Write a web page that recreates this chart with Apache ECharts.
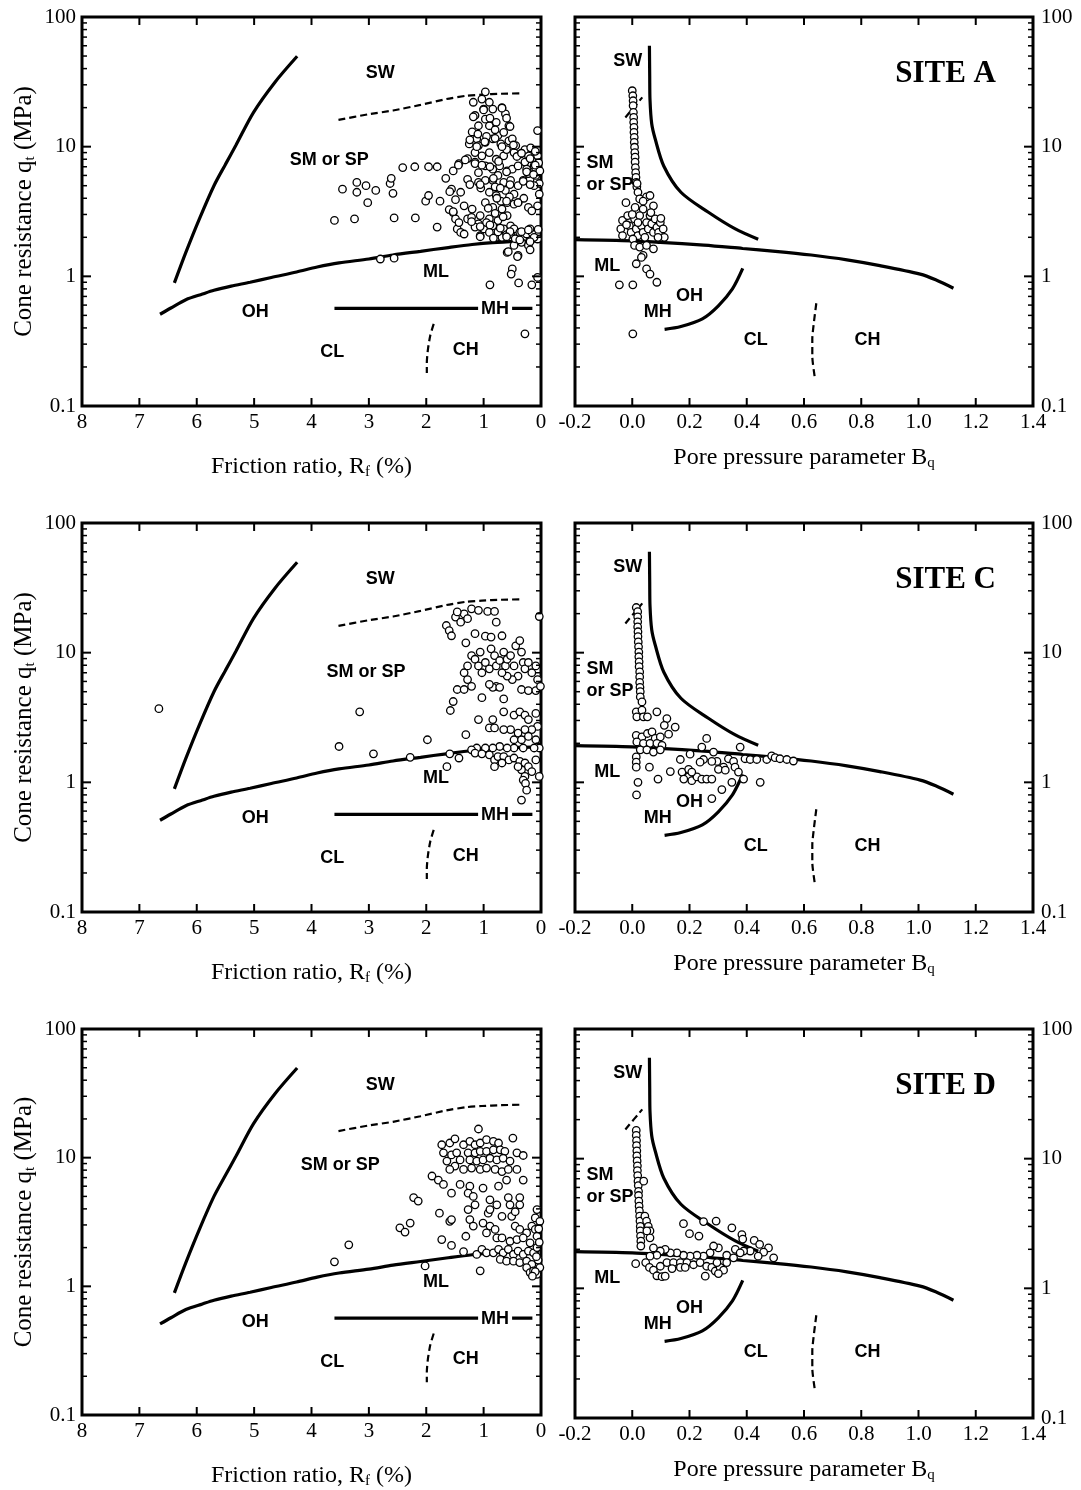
<!DOCTYPE html>
<html>
<head>
<meta charset="utf-8">
<script src="https://cdn.jsdelivr.net/npm/echarts@6/dist/echarts.min.js"></script>
<style>
  html, body { margin: 0; padding: 0; background: #fff; }
  #chart { width: 1081px; height: 1490px; }
</style>
</head>
<body>
<div id="chart"></div>
<script>
  // ---- axis ticks ----
  const rfTicks = [0, 1, 2, 3, 4, 5, 6, 7, 8];
  const bqTicks = [-0.2, 0, 0.2, 0.4, 0.6, 0.8, 1.0, 1.2, 1.4];
  const qTicks = [0.1, 0.2, 0.3, 0.4, 0.5, 0.6, 0.7, 0.8, 0.9,
    1, 2, 3, 4, 5, 6, 7, 8, 9, 10, 20, 30, 40, 50, 60, 70, 80, 90, 100];
  const siteNames = ['SITE A', 'SITE C', 'SITE D'];

  // ---- classification boundaries, Rf chart (Rf %, qt MPa) ----
  const rfSW = [[6.39, 0.89], [6.19, 1.53], [5.95, 2.8], [5.7, 5.0], [5.5, 7.3], [5.32, 10.2], [5.01, 18.4], [4.64, 31.3], [4.25, 49.8]];
  const rfMain = [[6.64, 0.51], [6.45, 0.57], [6.19, 0.66], [5.9, 0.73], [5.7, 0.78], [5.4, 0.84], [5.07, 0.9], [4.7, 0.98], [4.26, 1.08],
    [3.9, 1.18], [3.52, 1.27], [3.0, 1.36], [2.58, 1.46], [2.1, 1.56], [1.65, 1.66], [1.2, 1.76], [0.84, 1.82], [0.4, 1.86], [0.03, 1.88]];
  const rfDash = [[3.53, 16.1], [3.0, 17.8], [2.58, 19], [2.1, 21], [1.65, 23.3], [1.3, 24.7], [1.03, 25.2], [0.7, 25.6], [0.31, 25.8]];
  const rfMH = [[3.6, 0.566], [0.15, 0.566]];
  const rfCLCH = [[1.87, 0.43], [1.93, 0.35], [1.97, 0.275], [1.99, 0.217], [1.99, 0.18]];

  // ---- classification boundaries, Bq chart ----
  const bqSW = [[0.06, 60], [0.061, 35], [0.062, 23], [0.068, 15], [0.08, 11.5], [0.11, 7.1], [0.17, 4.45], [0.266, 3.12], [0.36, 2.32], [0.44, 1.93]];
  const bqMain = [[-0.2, 1.92], [0.0, 1.88], [0.098, 1.83], [0.25, 1.74], [0.386, 1.64], [0.5, 1.56], [0.625, 1.46], [0.75, 1.34],
    [0.865, 1.21], [1.006, 1.04], [1.06, 0.94], [1.122, 0.81]];
  const bqOH = [[0.113, 0.39], [0.17, 0.41], [0.245, 0.47], [0.30, 0.59], [0.35, 0.8], [0.386, 1.15]];
  const bqCLCH = [[0.643, 0.62], [0.635, 0.45], [0.629, 0.33], [0.629, 0.24], [0.637, 0.17]];
  const bqDash = [[-0.024, 16.8], [0.035, 24]];

  // ---- zone labels ----
  const rfLabels = [[2.8, 37, 'SW'], [1.83, 1.08, 'ML'], [4.98, 0.53, 'OH'], [3.64, 0.26, 'CL'], [1.31, 0.27, 'CH']];
  const rfMHLabel = [[0.8, 0.555, 'MH']];
  const rfSMLabel = [[3.69, 7.9, 'SM or SP'], [3.05, 7.1, 'SM or SP'], [3.5, 8.7, 'SM or SP']];
  const bqLabels = [[-0.016, 46, 'SW'], [-0.087, 1.21, 'ML'], [0.2, 0.71, 'OH'], [0.089, 0.53, 'MH'], [0.431, 0.32, 'CL'], [0.822, 0.32, 'CH']];
  const bqSMLabel = [[-0.16, 6.2, 'SM\nor SP']];

  // ---- CPT data, Site A ----
  const siteA_rf = [[3.60, 2.7], [3.46, 4.7], [3.25, 2.77], [3.21, 5.3], [3.21, 4.45], [3.05, 5.0], [3.02, 3.7], [2.88, 4.6], [2.80, 1.36],
    [2.63, 5.2], [2.61, 5.7], [2.58, 4.37], [2.56, 2.82], [2.56, 1.38], [2.41, 6.9], [2.20, 7.0], [2.19, 2.82], [2.01, 3.8], [1.96, 4.2],
    [1.96, 7.0], [1.81, 7.0], [1.81, 2.4], [1.76, 3.8], [1.66, 5.7], [1.60, 3.27], [1.53, 6.5], [1.56, 4.7], [1.49, 3.9], [1.43, 7.4],
    [1.40, 4.45], [1.34, 3.5], [1.53, 3.1], [1.49, 2.77], [1.46, 2.32], [1.40, 2.18], [1.34, 2.12], [1.43, 2.6], [1.28, 2.77], [1.21, 2.85],
    [1.28, 5.6], [1.28, 8.1], [0.97, 26.5], [1.18, 22], [1.03, 23.3], [0.90, 22], [0.84, 19.5], [0.68, 20], [0.62, 17.9], [0.56, 14.5],
    [1.15, 17.4], [1.09, 14.5], [0.97, 16.3], [1.00, 19.5], [0.90, 14.5], [0.78, 15.4], [0.75, 12.2], [0.65, 12.9], [0.56, 11.1], [0.50, 11.5],
    [1.12, 11.5], [1.25, 10.5], [1.09, 10.2], [0.97, 10.8], [0.84, 11.5], [1.15, 9.0], [1.03, 8.5], [0.90, 9.0], [0.78, 8.0], [0.65, 8.5],
    [0.47, 9.0], [0.44, 10.2], [1.15, 7.6], [1.09, 6.3], [0.97, 7.1], [0.84, 6.7], [0.72, 7.1], [0.59, 6.5], [0.50, 6.7], [0.40, 7.1],
    [0.28, 7.6], [0.22, 8.5], [0.16, 8.0], [0.25, 6.7], [0.12, 7.1], [0.06, 8.5], [0.06, 13.3], [1.09, 5.3], [0.97, 5.5], [0.84, 5.5],
    [0.75, 6.0], [0.65, 5.3], [0.53, 5.5], [0.40, 5.0], [0.31, 5.5], [0.19, 5.6], [0.09, 6.0], [0.03, 5.2], [0.12, 5.0], [0.22, 6.2],
    [0.09, 6.7], [0.90, 4.45], [0.78, 4.2], [0.62, 4.6], [0.47, 4.3], [0.59, 3.7], [0.97, 3.7], [0.84, 3.4], [0.68, 3.3], [0.47, 3.6],
    [0.40, 3.7], [0.22, 3.4], [0.16, 3.2], [1.06, 2.94], [0.90, 2.77], [0.75, 2.69], [0.59, 2.94], [1.09, 2.54], [1.00, 2.32], [0.84, 2.45],
    [0.65, 2.32], [0.53, 2.45], [1.06, 2.06], [0.90, 2.18], [0.78, 2.0], [0.68, 2.0], [0.53, 2.12], [0.47, 2.32], [0.37, 2.18], [0.31, 2.0],
    [0.25, 2.12], [0.16, 2.18], [0.19, 2.32], [0.34, 1.83], [0.47, 1.73], [0.22, 1.73], [0.06, 1.94], [0.59, 1.53], [0.40, 1.45], [0.50, 1.14],
    [0.52, 1.04], [0.89, 0.86], [0.39, 0.89], [0.16, 0.86], [0.28, 0.36], [0.06, 0.98], [0.03, 4.3], [0.06, 3.5],
    [1.20, 13], [1.10, 12.5], [0.95, 12], [0.80, 13.5], [0.70, 10.5], [0.60, 9.5], [0.35, 8.8], [0.28, 9.5], [0.18, 9.8], [0.10, 9.2],
    [0.04, 7.5], [0.02, 6.5], [1.05, 4.8], [0.80, 4.9], [0.70, 3.8], [0.55, 4.1], [0.30, 4.0], [1.20, 3.3], [1.15, 2.4], [0.95, 2.6],
    [0.75, 2.2], [0.60, 2.1], [0.45, 1.95], [0.12, 2.0], [0.05, 2.3],
    [1.18, 17], [1.0, 19.2], [0.89, 16.6], [0.68, 19.8], [0.6, 16.6], [0.54, 14.3], [1.24, 11.3], [1.12, 10], [0.98, 10.9], [0.8, 11.6],
    [0.68, 10], [0.48, 10.3], [1.15, 7.4], [1.03, 7.2], [0.89, 7.0], [0.74, 7.7], [0.6, 6.4], [0.42, 8.4], [0.34, 8.9], [0.19, 8.1],
    [0.1, 7.2], [0.25, 6.4], [0.13, 6.1], [0.31, 5.4], [0.19, 5.1], [1.24, 5.1], [1.06, 5.1], [0.83, 5.7], [0.71, 4.8], [0.54, 5.1],
    [0.77, 4.0], [0.6, 3.8], [0.4, 3.7], [0.92, 3.35], [0.8, 3.06], [0.66, 2.88], [1.21, 2.64], [1.06, 2.42], [0.89, 2.49], [0.71, 2.35],
    [0.54, 2.21], [0.34, 2.21], [0.22, 2.28], [1.06, 2.02], [0.83, 1.97], [0.6, 2.02], [0.37, 1.91], [0.19, 1.85], [0.57, 1.55], [0.41, 1.42],
    [0.19, 1.6], [1.53, 3.15], [1.59, 4.5], [1.44, 7.2], [1.32, 7.9]];
  const siteA_bq = [[0.0, 27], [0.002, 24.7], [0.003, 22.6], [0.003, 20.7], [0.004, 18.4], [0.005, 16.8], [0.005, 15.4], [0.006, 14.1],
    [0.006, 12.9], [0.007, 11.8], [0.007, 10.8], [0.008, 9.9], [0.009, 9.0], [0.01, 8.3], [0.01, 7.6], [0.011, 6.9], [0.012, 6.3],
    [0.013, 5.8], [0.014, 5.3], [0.016, 4.9], [0.017, 5.2], [0.02, 4.45], [0.026, 3.95], [0.05, 4.1], [0.062, 4.2], [-0.022, 3.7],
    [0.074, 3.5], [0.038, 3.3], [0.038, 3.8], [-0.034, 2.7], [-0.04, 2.32], [-0.034, 2.06], [-0.016, 2.94], [-0.01, 2.45], [-0.004, 2.18],
    [0.008, 2.77], [0.014, 2.32], [0.02, 2.06], [0.026, 2.94], [0.032, 2.45], [0.038, 2.18], [0.05, 2.6], [0.056, 2.32], [0.062, 2.94],
    [0.068, 2.54], [0.074, 2.18], [0.08, 2.77], [0.086, 2.39], [0.092, 2.18], [0.098, 2.6], [0.108, 2.32], [0.112, 2.0], [0.044, 2.0],
    [0.002, 1.94], [0.008, 1.73], [0.026, 1.68], [0.05, 1.73], [0.074, 1.63], [0.038, 1.45], [0.032, 1.4], [0.014, 1.25], [0.05, 1.14],
    [0.062, 1.04], [0.086, 0.9], [-0.045, 0.86], [0.002, 0.86], [0.002, 0.36], [-0.02, 2.5], [0.0, 3.0], [0.01, 3.4], [0.02, 2.6],
    [0.065, 3.1], [0.09, 2.0], [0.1, 2.8]];

  // ---- CPT data, Site C ----
  const siteC_rf = [[6.66, 3.7], [3.52, 1.89], [3.16, 3.5], [2.92, 1.66], [2.28, 1.56], [1.98, 2.13], [1.64, 1.32], [1.59, 1.66], [1.43, 1.54],
    [1.58, 3.58], [1.53, 4.2], [1.46, 5.2], [1.31, 2.33], [1.34, 5.2], [1.65, 16.2], [1.60, 14.8], [1.56, 13.5], [1.49, 18.8], [1.40, 17.2],
    [1.34, 19.9], [1.46, 20.6], [1.28, 18.3], [1.21, 21.8], [1.31, 11.9], [1.15, 14], [1.09, 21.2], [0.93, 20.8], [0.81, 20.8], [0.78, 17.2],
    [0.68, 13.5], [0.97, 13.4], [0.87, 13.2], [0.03, 19], [1.21, 9.5], [1.28, 7.9], [1.34, 7.0], [1.28, 6.2], [1.21, 5.5], [1.15, 8.9],
    [1.09, 7.9], [1.03, 7.0], [1.06, 10.1], [0.97, 8.4], [0.90, 7.5], [0.87, 10.7], [0.81, 9.5], [0.78, 7.9], [0.72, 8.7], [0.65, 10.1],
    [0.62, 7.9], [0.59, 8.9], [0.53, 9.5], [0.47, 7.9], [0.44, 11.3], [0.37, 12.4], [0.34, 10.1], [0.31, 8.4], [0.28, 7.5], [0.22, 8.4],
    [0.16, 7.0], [0.09, 7.9], [0.06, 6.2], [0.40, 6.6], [0.50, 6.2], [0.59, 6.6], [0.68, 7.0], [0.78, 5.5], [0.84, 5.4], [0.72, 5.4],
    [0.34, 5.2], [0.22, 5.1], [0.09, 5.1], [0.01, 5.5], [0.65, 4.4], [0.65, 3.5], [1.09, 3.05], [0.84, 3.05], [0.90, 2.63], [0.81, 2.63],
    [1.03, 4.5], [0.90, 5.7], [0.47, 3.3], [0.37, 3.5], [0.28, 3.3], [0.22, 3.05], [0.09, 3.4], [0.06, 2.7], [0.16, 2.55], [0.28, 2.55],
    [0.40, 2.4], [0.53, 2.55], [0.65, 2.55], [0.47, 2.13], [0.34, 2.13], [0.22, 2.26], [0.09, 2.13], [0.03, 1.84], [0.12, 1.84], [0.31, 1.84],
    [0.47, 1.84], [0.59, 1.84], [0.72, 1.89], [0.84, 1.84], [0.97, 1.84], [1.12, 1.84], [1.21, 1.78], [1.15, 1.68], [1.03, 1.66], [0.90, 1.63],
    [0.81, 1.49], [0.75, 1.58], [0.65, 1.58], [0.56, 1.49], [0.47, 1.54], [0.37, 1.45], [0.28, 1.41], [0.22, 1.32], [0.16, 1.21], [0.34, 1.25],
    [0.40, 1.32], [0.28, 1.11], [0.31, 1.04], [0.27, 0.98], [0.25, 0.87], [0.34, 0.73], [0.81, 1.32], [0.68, 1.41], [0.03, 1.11], [0.09, 1.49]];
  const siteC_bq = [[0.014, 22.3], [0.019, 20.7], [0.019, 18.9], [0.019, 17.3], [0.019, 15.8], [0.02, 14.5], [0.02, 13.3], [0.021, 12.1],
    [0.022, 11.1], [0.023, 10.1], [0.023, 9.3], [0.024, 8.5], [0.024, 7.8], [0.026, 7.1], [0.026, 6.5], [0.026, 5.9], [0.027, 5.4],
    [0.028, 5.0], [0.028, 4.56], [0.034, 4.17], [0.014, 3.5], [0.034, 3.6], [0.016, 3.2], [0.039, 3.2], [0.053, 3.2], [0.086, 3.5],
    [0.121, 3.1], [0.112, 2.75], [0.15, 2.67], [0.127, 2.35], [0.014, 2.3], [0.034, 2.24], [0.053, 2.38], [0.069, 2.45], [0.08, 2.18],
    [0.098, 2.24], [0.016, 2.05], [0.039, 2.0], [0.062, 2.0], [0.086, 2.0], [0.104, 1.93], [0.028, 1.78], [0.051, 1.78], [0.074, 1.71],
    [0.098, 1.78], [0.014, 1.57], [0.014, 1.43], [0.014, 1.31], [0.06, 1.31], [0.02, 1.0], [0.015, 0.8], [0.09, 1.06], [0.133, 1.21],
    [0.168, 1.5], [0.202, 1.65], [0.243, 1.87], [0.26, 2.18], [0.377, 1.87], [0.284, 1.71], [0.296, 1.45], [0.249, 1.5], [0.237, 1.43],
    [0.278, 1.45], [0.319, 1.31], [0.336, 1.52], [0.354, 1.45], [0.359, 1.31], [0.394, 1.52], [0.412, 1.5], [0.435, 1.5], [0.47, 1.5],
    [0.487, 1.6], [0.499, 1.55], [0.516, 1.52], [0.54, 1.5], [0.563, 1.46], [0.174, 1.2], [0.197, 1.1], [0.208, 1.03], [0.226, 1.1],
    [0.243, 1.06], [0.26, 1.06], [0.278, 1.06], [0.18, 1.06], [0.197, 1.26], [0.208, 1.2], [0.371, 1.2], [0.348, 1.0], [0.313, 0.88],
    [0.278, 0.75], [0.389, 1.06], [0.447, 1.0], [0.301, 1.26], [0.325, 1.24]];

  // ---- CPT data, Site D ----
  const siteD_rf = [[1.09, 16.7], [0.49, 14.2], [1.73, 12.6], [1.59, 13], [1.50, 14], [1.70, 10.9], [1.64, 9.4], [1.56, 10.5], [1.47, 10.9],
    [1.41, 9.6], [1.50, 8.6], [1.59, 8.1], [1.35, 12.6], [1.24, 13.4], [1.15, 12.6], [1.06, 13], [0.95, 13.8], [0.83, 13.4], [0.74, 13],
    [1.27, 10.9], [1.15, 10.9], [1.06, 11.2], [0.95, 11.2], [0.83, 11.5], [0.71, 11.5], [0.63, 11.2], [1.24, 9.6], [1.12, 9.4], [1.01, 9.6],
    [0.89, 9.9], [0.77, 9.6], [0.66, 9.9], [0.54, 9.4], [0.42, 10.9], [0.31, 10.4], [1.35, 8.1], [1.21, 8.3], [1.06, 8.1], [0.95, 8.3],
    [0.80, 8.1], [0.68, 7.8], [0.57, 8.1], [0.42, 8.1], [0.31, 6.7], [1.90, 7.2], [1.79, 6.7], [1.70, 6.2], [1.41, 6.2], [1.24, 6.0],
    [1.01, 5.8], [0.74, 6.0], [0.60, 6.7], [2.22, 4.9], [2.14, 4.6], [1.56, 5.3], [1.27, 5.3], [1.18, 5.0], [0.89, 4.7], [0.77, 4.3],
    [0.57, 4.9], [0.37, 4.9], [0.54, 4.3], [0.37, 4.3], [1.77, 3.7], [1.27, 3.95], [1.15, 4.3], [0.92, 3.7], [0.89, 3.95], [0.68, 3.5],
    [0.51, 3.5], [0.45, 3.8], [0.07, 3.95], [0.10, 3.4], [1.59, 3.2], [1.56, 3.3], [2.46, 2.85], [2.37, 2.64], [2.28, 3.1], [1.24, 3.3],
    [1.18, 2.94], [1.01, 3.1], [0.89, 2.94], [0.80, 2.77], [0.95, 2.6], [0.45, 2.94], [0.37, 2.77], [0.25, 2.6], [0.16, 2.94], [0.10, 2.77],
    [1.73, 2.31], [1.31, 2.45], [1.56, 2.08], [0.77, 2.38], [0.68, 2.38], [0.54, 2.24], [0.42, 2.31], [0.31, 2.38], [0.19, 2.18], [0.07, 2.45],
    [1.35, 1.86], [1.12, 1.77], [1.03, 1.94], [0.95, 1.82], [0.83, 1.82], [0.74, 1.94], [0.66, 1.82], [0.57, 1.94], [0.48, 1.77], [0.40, 1.88],
    [0.31, 1.77], [0.22, 1.88], [0.13, 1.82], [0.07, 2.0], [0.71, 1.62], [0.60, 1.57], [0.48, 1.57], [0.37, 1.53], [0.25, 1.57], [0.16, 1.48],
    [0.25, 1.4], [0.19, 1.28], [0.13, 1.32], [0.07, 1.24], [1.06, 1.32], [2.02, 1.44], [3.35, 2.1], [3.6, 1.55], [0.03, 2.2], [0.05, 1.6],
    [0.02, 1.4], [0.08, 1.7], [0.04, 2.8], [0.02, 3.2], [0.1, 1.3], [0.15, 1.2]];
  const siteD_bq = [[0.014, 16.5], [0.014, 15.1], [0.015, 13.8], [0.015, 12.6], [0.016, 11.5], [0.016, 10.5], [0.017, 9.6], [0.018, 8.8],
    [0.018, 8.1], [0.019, 7.4], [0.02, 6.7], [0.021, 6.2], [0.022, 5.6], [0.022, 5.2], [0.023, 4.7], [0.024, 4.3], [0.025, 3.95],
    [0.026, 3.6], [0.027, 3.3], [0.028, 3.0], [0.028, 2.77], [0.029, 2.53], [0.03, 2.31], [0.03, 2.12], [0.04, 6.7], [0.044, 3.6],
    [0.05, 3.3], [0.056, 3.0], [0.062, 2.77], [0.179, 3.15], [0.2, 2.64], [0.233, 2.53], [0.249, 3.27], [0.293, 3.3], [0.348, 2.93],
    [0.383, 2.6], [0.386, 2.4], [0.426, 2.34], [0.445, 2.18], [0.476, 2.05], [0.459, 1.9], [0.494, 1.72], [0.44, 1.77], [0.412, 1.94],
    [0.389, 1.94], [0.36, 2.0], [0.33, 1.8], [0.301, 2.05], [0.284, 2.12], [0.272, 1.88], [0.249, 1.77], [0.226, 1.8], [0.202, 1.77],
    [0.179, 1.8], [0.156, 1.88], [0.133, 1.88], [0.115, 2.0], [0.098, 1.94], [0.086, 1.8], [0.074, 2.05], [0.062, 2.45], [0.051, 2.77],
    [0.062, 1.77], [0.012, 1.55], [0.047, 1.58], [0.06, 1.45], [0.074, 1.38], [0.086, 1.25], [0.104, 1.23], [0.115, 1.24], [0.098, 1.48],
    [0.121, 1.58], [0.144, 1.58], [0.168, 1.58], [0.191, 1.58], [0.139, 1.42], [0.168, 1.45], [0.185, 1.45], [0.214, 1.52], [0.237, 1.58],
    [0.26, 1.48], [0.255, 1.24], [0.278, 1.45], [0.29, 1.36], [0.307, 1.45], [0.319, 1.38], [0.301, 1.3], [0.296, 1.58], [0.33, 1.58],
    [0.354, 1.72], [0.377, 1.88]];

  const rfData = [siteA_rf, siteC_rf, siteD_rf];
  const bqData = [siteA_bq, siteC_bq, siteD_bq];

  // layout
  const rowTop = [17, 523, 1029];
  const plotH = 389;
  const serif = 'Liberation Serif';
  const sans = 'Liberation Sans';

  const myChart = echarts.init(document.getElementById('chart'));

  function isDecade(v) {
    const l = Math.log10(v);
    return Math.abs(l - Math.round(l)) < 1e-6;
  }

  // inner ticks on left and right frame edges (log scale)
  function yTickSeries(i, xRef) {
    return {
      type: 'custom', xAxisIndex: i, yAxisIndex: i, silent: true, z: 6,
      data: qTicks.map(v => [xRef, v]),
      renderItem: function (params, api) {
        const v = api.value(1);
        const y = api.coord([api.value(0), v])[1];
        const cs = params.coordSys;
        const major = isDecade(v);
        const len = major ? 9 : 5;
        const st = {stroke: '#000', lineWidth: major ? 2 : 1.5};
        return {
          type: 'group', children: [
            {type: 'line', shape: {x1: cs.x, y1: y, x2: cs.x + len, y2: y}, style: st},
            {type: 'line', shape: {x1: cs.x + cs.width - len, y1: y, x2: cs.x + cs.width, y2: y}, style: st}
          ]
        };
      }
    };
  }

  // inner ticks on top and bottom frame edges
  function xTickSeries(i, ticks) {
    return {
      type: 'custom', xAxisIndex: i, yAxisIndex: i, silent: true, z: 6,
      data: ticks.map(v => [v, 1]),
      renderItem: function (params, api) {
        const x = api.coord([api.value(0), 1])[0];
        const cs = params.coordSys;
        const st = {stroke: '#000', lineWidth: 2};
        return {
          type: 'group', children: [
            {type: 'line', shape: {x1: x, y1: cs.y, x2: x, y2: cs.y + 8}, style: st},
            {type: 'line', shape: {x1: x, y1: cs.y + cs.height - 8, x2: x, y2: cs.y + cs.height}, style: st}
          ]
        };
      }
    };
  }

  function lineSeries(i, data, dashed) {
    return {
      type: 'line', xAxisIndex: i, yAxisIndex: i, data: data, showSymbol: false, symbol: 'none',
      smooth: dashed ? 0.2 : 0.3, silent: true, z: 3,
      lineStyle: dashed ? {color: '#000', width: 2.2, type: [7, 4]} : {color: '#000', width: 3.2}
    };
  }

  function pointSeries(i, data) {
    return {
      type: 'scatter', xAxisIndex: i, yAxisIndex: i, data: data, symbol: 'circle', symbolSize: 7.5, z: 4,
      itemStyle: {color: '#fff', borderColor: '#000', borderWidth: 1.3, opacity: 1}
    };
  }

  function labelSeries(i, data, extra) {
    return {
      type: 'scatter', xAxisIndex: i, yAxisIndex: i, data: data, symbolSize: 0, silent: true, z: 8,
      itemStyle: {color: '#000', opacity: 1},
      label: Object.assign({
        show: true, position: 'inside', formatter: p => p.value[2],
        fontFamily: sans, fontWeight: 'bold', fontSize: 18, color: '#000', lineHeight: 22,
        textBorderWidth: 0, textBorderColor: 'transparent', opacity: 1
      }, extra || {})
    };
  }

  const grids = [], xAxes = [], yAxes = [], series = [], titles = [];
  const tickFont = {fontFamily: serif, fontSize: 21, color: '#000'};
  const nameRich = {sub: {fontFamily: serif, fontSize: 15, color: '#000', padding: [12, 0, 0, 0]}};

  for (let r = 0; r < 3; r++) {
    const li = r * 2, ri = r * 2 + 1;
    grids.push({left: 82, top: rowTop[r], width: 459, height: plotH, show: true, borderColor: '#000', borderWidth: 3, backgroundColor: 'transparent'});
    grids.push({left: 575, top: rowTop[r], width: 458, height: plotH, show: true, borderColor: '#000', borderWidth: 3, backgroundColor: 'transparent'});

    xAxes.push({
      gridIndex: li, type: 'value', min: 0, max: 8, interval: 1, inverse: true,
      axisLine: {show: false}, axisTick: {show: false}, splitLine: {show: false},
      axisLabel: Object.assign({margin: 6}, tickFont),
      name: 'Friction ratio, R{sub|f} (%)', nameLocation: 'middle', nameGap: 47,
      nameTextStyle: {fontFamily: serif, fontSize: 24, color: '#000', rich: nameRich}
    });
    xAxes.push({
      gridIndex: ri, type: 'value', min: -0.2, max: 1.4, interval: 0.2,
      axisLine: {show: false}, axisTick: {show: false}, splitLine: {show: false},
      axisLabel: Object.assign({margin: 6, formatter: v => v.toFixed(1)}, tickFont),
      name: 'Pore pressure parameter B{sub|q}', nameLocation: 'middle', nameGap: 38,
      nameTextStyle: {fontFamily: serif, fontSize: 24, color: '#000', rich: nameRich}
    });

    yAxes.push({
      gridIndex: li, type: 'log', logBase: 10, min: 0.1, max: 100,
      axisLine: {show: false}, axisTick: {show: false}, splitLine: {show: false},
      axisLabel: Object.assign({margin: 6, formatter: v => String(+Number(v).toPrecision(3))}, tickFont),
      name: 'Cone resistance q{sub|t} (MPa)', nameLocation: 'middle', nameGap: 44, nameRotate: 90,
      nameTextStyle: {fontFamily: serif, fontSize: 25, color: '#000', rich: nameRich}
    });
    yAxes.push({
      gridIndex: ri, type: 'log', logBase: 10, min: 0.1, max: 100, position: 'right',
      axisLine: {show: false}, axisTick: {show: false}, splitLine: {show: false},
      axisLabel: Object.assign({margin: 8, formatter: v => String(+Number(v).toPrecision(3))}, tickFont)
    });

    // Rf panel
    series.push(lineSeries(li, rfSW), lineSeries(li, rfMain), lineSeries(li, rfDash, true),
      lineSeries(li, rfMH), lineSeries(li, rfCLCH, true));
    series.push(pointSeries(li, rfData[r]));
    series.push(labelSeries(li, rfLabels), labelSeries(li, [rfSMLabel[r]]),
      labelSeries(li, rfMHLabel, {backgroundColor: '#fff', padding: [0, 3]}));
    series.push(yTickSeries(li, 4), xTickSeries(li, rfTicks));

    // Bq panel
    series.push(lineSeries(ri, bqSW), lineSeries(ri, bqMain), lineSeries(ri, bqOH),
      lineSeries(ri, bqCLCH, true), lineSeries(ri, bqDash, true));
    series.push(pointSeries(ri, bqData[r]));
    series.push(labelSeries(ri, bqLabels), labelSeries(ri, bqSMLabel, {position: 'right', distance: 0, align: 'left'}));
    series.push(yTickSeries(ri, 0.6), xTickSeries(ri, bqTicks));

    titles.push({
      text: siteNames[r], right: 80, top: rowTop[r] + 36,
      textStyle: {fontFamily: serif, fontWeight: 'bold', fontSize: 31, color: '#000'}
    });
  }

  myChart.setOption({
    animation: false,
    backgroundColor: '#fff',
    title: titles,
    grid: grids,
    xAxis: xAxes,
    yAxis: yAxes,
    series: series
  });
</script>
</body>
</html>
